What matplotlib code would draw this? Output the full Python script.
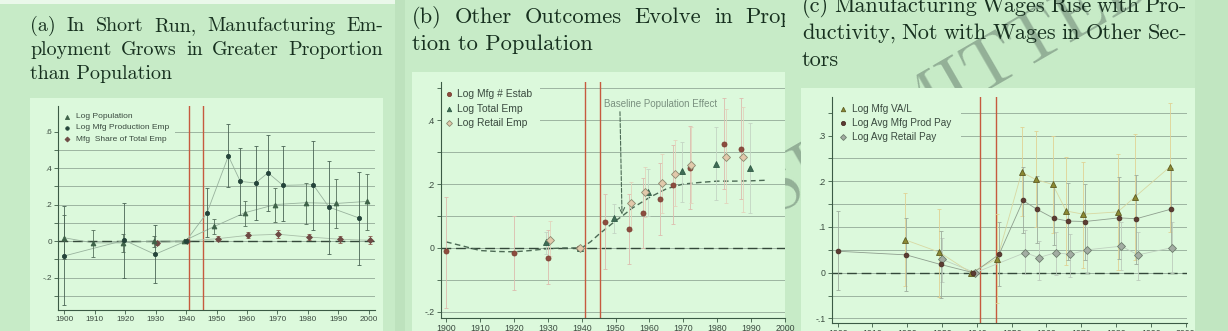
import matplotlib.pyplot as plt
import matplotlib.patches as mpatches
import numpy as np

plt.rcParams['font.family'] = ['Liberation Sans', 'DejaVu Sans']

W, H = 1228, 331

# ---------------- panel (a): employment vs population ----------------
a_pop_x = [1900, 1909.5, 1919.3, 1929.4, 1939.2, 1949.3, 1959.3, 1969.3, 1979.2, 1989.3, 1999.3]
a_pop_y = [0.018, -0.01, -0.01, 0.0, 0.0, 0.08, 0.155, 0.2, 0.21, 0.206, 0.217]
a_pop_lo = [-0.10, -0.085, -0.06, -0.03, 0.0, 0.04, 0.085, 0.104, 0.095, 0.07, 0.063]
a_pop_hi = [0.14, 0.06, 0.04, 0.03, 0.0, 0.12, 0.22, 0.29, 0.32, 0.34, 0.37]

a_mfg_x = [1900, 1919.8, 1929.8, 1940, 1946.9, 1953.9, 1957.8, 1962.8, 1966.9, 1971.8, 1981.7, 1986.9, 1996.8]
a_mfg_y = [-0.082, 0.004, -0.073, 0.0, 0.155, 0.466, 0.327, 0.318, 0.374, 0.305, 0.309, 0.186, 0.126]
a_mfg_lo = [-0.35, -0.20, -0.23, 0.0, 0.02, 0.296, 0.14, 0.113, 0.165, 0.108, 0.062, -0.07, -0.13]
a_mfg_hi = [0.19, 0.21, 0.09, 0.0, 0.29, 0.64, 0.51, 0.52, 0.58, 0.52, 0.55, 0.44, 0.38]

a_shr_x = [1930.5, 1940.4, 1950.4, 1960.3, 1970.3, 1980.3, 1990.4, 2000.3]
a_shr_y = [-0.01, 0.0, 0.013, 0.031, 0.037, 0.022, 0.01, 0.004]
a_shr_lo = [-0.02, 0.0, 0.0, 0.015, 0.018, 0.005, -0.01, -0.015]
a_shr_hi = [0.0, 0.0, 0.028, 0.05, 0.06, 0.04, 0.03, 0.025]

# ---------------- panel (b): other outcomes ----------------
b_est_x = [1900, 1920, 1930, 1939.2, 1947, 1954, 1958, 1963.1, 1967, 1972.1, 1982, 1986.9]
b_est_y = [-0.011, -0.016, -0.031, 0.0, 0.08, 0.059, 0.109, 0.153, 0.198, 0.251, 0.326, 0.309]
b_est_lo = [-0.187, -0.13, -0.112, 0.0, -0.065, -0.049, 0.0, 0.04, 0.075, 0.121, 0.183, 0.152]
b_est_hi = [0.16, 0.10, 0.057, 0.0, 0.168, 0.17, 0.218, 0.266, 0.321, 0.38, 0.47, 0.468]

b_tot_x = [1929.5, 1939.6, 1949.5, 1959.6, 1969.7, 1979.6, 1989.6]
b_tot_y = [0.019, 0.0, 0.093, 0.174, 0.24, 0.264, 0.249]
b_tot_lo = [-0.02, 0.0, 0.047, 0.10, 0.145, 0.15, 0.11]
b_tot_hi = [0.05, 0.0, 0.138, 0.247, 0.33, 0.378, 0.39]

b_ret_x = [1930.6, 1939.5, 1954.6, 1958.6, 1963.6, 1967.4, 1972.4, 1982.5, 1987.5]
b_ret_y = [0.025, 0.0, 0.14, 0.174, 0.204, 0.232, 0.26, 0.286, 0.286]
b_ret_lo = [-0.026, 0.0, 0.057, 0.098, 0.109, 0.13, 0.14, 0.14, 0.114]
b_ret_hi = [0.083, 0.0, 0.207, 0.254, 0.295, 0.337, 0.378, 0.435, 0.44]

# baseline population effect
base_x = [1900, 1905, 1910, 1915, 1920, 1925, 1930, 1935, 1940, 1942.7, 1945, 1950, 1952, 1955,
          1960, 1965, 1970, 1975, 1980, 1985, 1990, 1995]
base_y = [0.019, 0.006, -0.008, -0.011, -0.012, -0.008, -0.002, 0.0, 0.0, 0.02, 0.042, 0.085, 0.10,
          0.125, 0.158, 0.185, 0.2, 0.205, 0.209, 0.209, 0.21, 0.212]

# ---------------- panel (c): wages ----------------
c_va_x = [1919.4, 1929.2, 1938.3, 1945.9, 1952.9, 1956.9, 1961.8, 1965.7, 1970.6, 1980.5, 1985.5, 1995.4]
c_va_y = [0.072, 0.045, 0.0, 0.031, 0.22, 0.204, 0.193, 0.135, 0.128, 0.133, 0.166, 0.231]
c_va_lo = [-0.03, -0.053, 0.0, -0.067, 0.123, 0.10, 0.086, 0.017, 0.011, 0.006, 0.028, 0.09]
c_va_hi = [0.174, 0.139, 0.0, 0.128, 0.318, 0.31, 0.30, 0.254, 0.243, 0.26, 0.303, 0.372]

c_pay_x = [1900, 1919.7, 1929.6, 1939.0, 1946.4, 1953.3, 1957.2, 1962.1, 1966.2, 1971.1, 1980.9, 1985.8, 1995.8]
c_pay_y = [0.047, 0.039, 0.018, 0.0, 0.04, 0.158, 0.139, 0.119, 0.113, 0.112, 0.12, 0.118, 0.139]
c_pay_lo = [-0.038, -0.04, -0.055, 0.0, -0.03, 0.086, 0.066, 0.061, 0.028, 0.028, 0.031, 0.02, 0.05]
c_pay_hi = [0.134, 0.12, 0.091, 0.0, 0.112, 0.232, 0.212, 0.188, 0.196, 0.193, 0.21, 0.214, 0.228]

c_ret_x = [1930.1, 1939.5, 1953.9, 1957.8, 1962.7, 1966.7, 1971.6, 1981.5, 1986.3, 1996.2]
c_ret_y = [0.029, 0.0, 0.044, 0.033, 0.044, 0.04, 0.05, 0.058, 0.039, 0.055]
c_ret_lo = [-0.02, 0.0, -0.002, -0.015, -0.005, -0.01, 0.0, 0.005, -0.015, 0.0]
c_ret_hi = [0.077, 0.0, 0.093, 0.07, 0.09, 0.085, 0.10, 0.11, 0.09, 0.11]

years = list(range(1900, 2001, 10))
EVENT = [1940.9, 1945.5]

PAGE = '#c7ebc7'
BOX = '#dcf9dc'
AXIS = '#3b5a45'
GRID = '#93aa97'
LABEL = '#3a4a3f'
TITLE = '#17301f'
RED = '#c65a3e'

fig = plt.figure(figsize=(W / 100, H / 100), dpi=100)
fig.patch.set_facecolor(PAGE)


def px_rect(x0, y0, x1, y1, color, z):
    r = mpatches.Rectangle((x0 / W, 1 - y1 / H), (x1 - x0) / W, (y1 - y0) / H,
                           transform=fig.transFigure, facecolor=color, edgecolor='none', zorder=z)
    fig.add_artist(r)


def justified(text, x0, x1, y, size, last=False, z=1):
    kw = dict(fontsize=size, family='cmr10', color=TITLE, va='baseline', zorder=z)
    if last:
        fig.text(x0 / W, 1 - y / H, text, **kw)
        return
    words = text.split()
    rend = fig.canvas.get_renderer()
    objs = [fig.text(0, 1 - y / H, w, **kw) for w in words]
    widths = [o.get_window_extent(rend).width for o in objs]
    gap = (x1 - x0 - sum(widths)) / (len(words) - 1)
    x = x0
    for o, w in zip(objs, widths):
        o.set_x(x / W)
        x += w + gap


def make_axes(left, top, right, bottom):
    ax = fig.add_axes([left / W, 1 - bottom / H, (right - left) / W, (bottom - top) / H])
    ax.set_zorder(5)
    ax.patch.set_visible(False)
    return ax


def style(ax, xlim, ylim, major, labels, minor, fs):
    ax.set_xlim(*xlim)
    ax.set_ylim(*ylim)
    for s in ['top', 'right']:
        ax.spines[s].set_visible(False)
    for s in ['left', 'bottom']:
        ax.spines[s].set_color(AXIS)
        ax.spines[s].set_linewidth(0.8)
    ax.set_xticks(years)
    ax.set_xticklabels([str(y) for y in years])
    ax.set_yticks(major)
    ax.set_yticklabels(labels)
    ax.set_yticks(minor, minor=True)
    ax.tick_params(which='both', colors=AXIS, length=3, width=0.6,
                   labelsize=fs, labelcolor=LABEL, pad=1.5)
    ax.grid(axis='y', which='both', color=GRID, lw=0.6)
    ax.set_axisbelow(True)
    ax.axhline(0, color='#34483a', lw=1.0, dashes=(7, 3.5), zorder=2)
    for e in EVENT:
        ax.axvline(e, color=RED, lw=1.0, zorder=2.5)


def series(ax, x, y, lo, hi, marker, mfc, mec, ms, ecolor, lcolor=None):
    y = np.array(y)
    err = [y - np.array(lo), np.array(hi) - y]
    if lcolor:
        ax.plot(x, y, color=lcolor, lw=0.6, zorder=2.6)
    ax.errorbar(x, y, yerr=err, fmt='none', ecolor=ecolor, elinewidth=0.6,
                capsize=1.5, capthick=0.6, zorder=2.7)
    ax.plot(x, y, marker, ls='none', ms=ms, mfc=mfc, mec=mec, mew=0.6, zorder=3)


def legend(ax, rect_w, rect_h, mx, tx, rows, entries, fs):
    ax.add_patch(mpatches.Rectangle((0, 1 - rect_h), rect_w, rect_h, transform=ax.transAxes,
                                    facecolor=BOX, edgecolor='none', zorder=1, clip_on=False))
    for ry, (label, marker, mfc, mec, ms) in zip(rows, entries):
        ax.plot([mx], [ry], marker, transform=ax.transAxes, ms=ms, mfc=mfc, mec=mec,
                mew=0.6, clip_on=False, zorder=3)
        ax.text(tx, ry, label, transform=ax.transAxes, va='center', ha='left',
                fontsize=fs, color=LABEL, zorder=3)


# page layers
px_rect(0, 0, 395, 4, '#eaf8ea', 0.5)
px_rect(395, 0, 405, H, '#bde2bd', 0.5)
px_rect(785, 0, W, H, PAGE, 2)
px_rect(1195, 0, W, H, '#c1e6c1', 2.1)
fig.text(773 / W, 1 - 213 / H, 'SUBMITTED', rotation=30, rotation_mode='anchor',
         fontsize=52, family='cmr10', color='#93b097', va='baseline', ha='left', zorder=2.5)
px_rect(30, 98, 383, H, BOX, 3)
px_rect(412, 72, 785, H, BOX, 3)
px_rect(801, 88, 1195, H, BOX, 3)

# titles
justified('(a) In Short Run, Manufacturing Em-', 30, 383, 31, 14.4)
justified('ployment Grows in Greater Proportion', 30, 383, 55, 14.4)
justified('than Population', 30, 383, 79, 14.4, last=True)
justified('(b) Other Outcomes Evolve in Propor-', 412, 821, 23, 16.2)
justified('tion to Population', 412, 821, 50, 16.2, last=True)
justified('(c) Manufacturing Wages Rise with Pro-', 802, 1187, 12, 16, z=4)
justified('ductivity, Not with Wages in Other Sec-', 802, 1187, 39, 16, z=4)
justified('tors', 802, 1187, 66, 16, last=True, z=4)

# ---- (a)
ax = make_axes(58, 106, 375, 310)
style(ax, (1898, 2002), (-0.378, 0.74), [-0.2, 0, 0.2, 0.4, 0.6], ['-.2', '0', '.2', '.4', '.6'],
      [-0.3, -0.1, 0.1, 0.3, 0.5], 5.9)
series(ax, a_shr_x, a_shr_y, a_shr_lo, a_shr_hi, 'D', '#6e4a44', '#6e4a44', 3, '#8c5e52', '#a9bfa9')
series(ax, a_pop_x, a_pop_y, a_pop_lo, a_pop_hi, '^', '#3e6248', '#3e6248', 3.5, '#56705c', '#98b29d')
series(ax, a_mfg_x, a_mfg_y, a_mfg_lo, a_mfg_hi, 'o', '#24443a', '#24443a', 3, '#4a6454', '#98b29d')
legend(ax, 0.369, 0.191, 0.027, 0.056, [0.948, 0.894, 0.837],
       [('Log Population', '^', '#3e6248', '#3e6248', 3),
        ('Log Mfg Production Emp', 'o', '#24443a', '#24443a', 2.5),
        ('Mfg  Share of Total Emp', 'D', '#6e4a44', '#6e4a44', 2.5)], 6)

# ---- (b)
ax = make_axes(440.7, 82, 785, 318)
style(ax, (1898.4, 1994), (-0.219, 0.519), [-0.2, 0, 0.2, 0.4], ['-.2', '0', '.2', '.4'],
      [-0.1, 0.1, 0.3, 0.5], 6.3)
ax.plot(base_x, base_y, color='#4c6a55', lw=1.0, dashes=(4, 2.5), zorder=2.6)
series(ax, b_est_x, b_est_y, b_est_lo, b_est_hi, 'o', '#8e4c3e', '#7a4034', 3.6, '#dcbcae')
series(ax, b_tot_x, b_tot_y, b_tot_lo, b_tot_hi, '^', '#3f6c55', '#2f5a45', 4, '#c3d4c3')
series(ax, b_ret_x, b_ret_y, b_ret_lo, b_ret_hi, 'D', '#e2c9ab', '#8a8a70', 4, '#e3d3bc')
ax.annotate('', xy=(1951.9, 0.105), xytext=(1951.3, 0.426),
            arrowprops=dict(arrowstyle='->', ls='--', color='#4c6a55', lw=0.8,
                            shrinkA=0, shrinkB=0), zorder=2.8)
ax.text(1946.6, 0.45, 'Baseline Population Effect', va='center', ha='left',
        fontsize=7, color='#7a907f', zorder=3)
legend(ax, 0.288, 0.195, 0.025, 0.048, [0.948, 0.886, 0.825],
       [('Log Mfg # Estab', 'o', '#8e4c3e', '#7a4034', 3),
        ('Log Total Emp', '^', '#3f6c55', '#2f5a45', 3.2),
        ('Log Retail Emp', 'D', '#e2c9ab', '#8a8a70', 3)], 7.4)

# ---- (c)
ax = make_axes(831.7, 96.7, 1187, 323)
style(ax, (1898.3, 2000.4), (-0.110, 0.385), [-0.1, 0, 0.1, 0.2, 0.3], ['-.1', '0', '.1', '.2', '.3'],
      [-0.05, 0.05, 0.15, 0.25, 0.35], 6.3)
series(ax, c_ret_x, c_ret_y, c_ret_lo, c_ret_hi, 'D', '#a3ada3', '#6c7c6c', 3.6, '#bccbbc', '#bfd0bf')
series(ax, c_va_x, c_va_y, c_va_lo, c_va_hi, '^', '#8c8a34', '#5e5c22', 4, '#e0d294', '#d8d8a2')
series(ax, c_pay_x, c_pay_y, c_pay_lo, c_pay_hi, 'o', '#5c3c33', '#4a2e26', 3.4, '#9cac9c', '#8e9e8e')
legend(ax, 0.364, 0.2, 0.033, 0.058, [0.945, 0.882, 0.823],
       [('Log Mfg VA/L', '^', '#8c8a34', '#5e5c22', 3.2),
        ('Log Avg Mfg Prod Pay', 'o', '#5c3c33', '#4a2e26', 3),
        ('Log Avg Retail Pay', 'D', '#a3ada3', '#6c7c6c', 3)], 7.2)

fig.savefig('out.png', dpi=100, facecolor=fig.get_facecolor())
